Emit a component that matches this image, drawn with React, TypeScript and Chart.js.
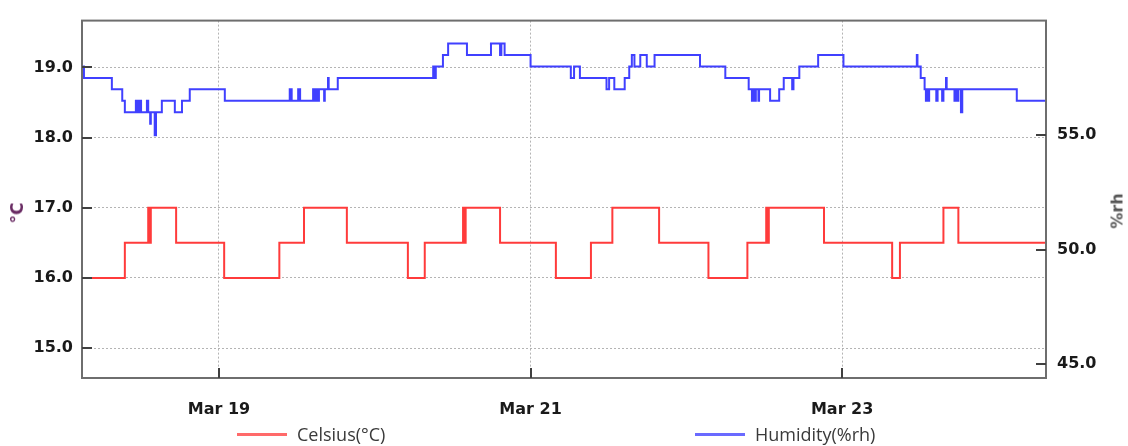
import React, { useEffect, useRef } from "react";
import { Chart, registerables } from "chart.js";

Chart.register(...registerables);

// Hours since Mar 18 00:00
const xMinHour = 2.9;
const xMaxHour = 151.4;
const xTickHours = [24, 72, 120];
const xTickLabels = ["Mar 19", "Mar 21", "Mar 23"];

const leftTicks = [15, 16, 17, 18, 19];
const rightTicks = [45, 50, 55];

const tempHours = [2.9, 9.5, 13.1, 13.3, 13.5, 17.4, 24.8, 33.3, 37.1, 43.7, 53.1, 55.7, 61.6, 61.8, 62.0, 67.3, 75.9, 81.3, 84.6, 91.8, 99.4, 105.4, 108.3, 108.5, 108.7, 117.2, 127.7, 128.9, 135.6, 137.9, 151.4];
const tempValues = [16.0, 16.5, 17.0, 16.5, 17.0, 16.5, 16.0, 16.5, 17.0, 16.5, 16.0, 16.5, 17.0, 16.5, 17.0, 16.5, 16.0, 16.5, 17.0, 16.5, 16.0, 16.5, 17.0, 16.5, 17.0, 16.5, 16.0, 16.5, 17.0, 16.5, 16.5];

const humHours = [2.9, 3.2, 7.5, 9.1, 9.5, 11.2, 11.4, 11.5, 11.7, 11.8, 12.0, 12.9, 13.1, 13.4, 13.5, 14.1, 14.3, 15.2, 17.2, 18.3, 19.5, 24.9, 34.9, 35.2, 36.2, 36.5, 38.5, 38.6, 38.8, 38.9, 39.1, 39.3, 39.4, 40.2, 40.3, 40.8, 40.9, 42.3, 57.0, 57.3, 57.4, 58.5, 59.3, 62.2, 65.9, 67.3, 67.5, 68.0, 72.0, 78.2, 78.7, 79.6, 83.7, 84.1, 84.9, 86.5, 87.2, 87.6, 88.0, 88.9, 89.9, 91.1, 98.1, 102.0, 105.6, 106.1, 106.3, 106.6, 106.7, 107.1, 107.2, 108.9, 110.3, 111.0, 112.3, 112.5, 113.4, 116.3, 120.2, 131.5, 131.6, 132.1, 132.7, 132.9, 133.1, 133.3, 133.4, 134.5, 134.7, 135.4, 135.6, 136.0, 136.1, 137.3, 137.5, 137.7, 137.9, 138.3, 138.5, 146.9, 151.4];
const humValues = [58.0, 57.5, 57.0, 56.5, 56.0, 56.5, 56.0, 56.5, 56.0, 56.5, 56.0, 56.5, 56.0, 55.5, 56.0, 55.0, 56.0, 56.5, 56.0, 56.5, 57.0, 56.5, 57.0, 56.5, 57.0, 56.5, 57.0, 56.5, 57.0, 56.5, 57.0, 56.5, 57.0, 56.5, 57.0, 57.5, 57.0, 57.5, 58.0, 57.5, 58.0, 58.5, 59.0, 58.5, 59.0, 58.5, 59.0, 58.5, 58.0, 57.5, 58.0, 57.5, 57.0, 57.5, 57.0, 57.5, 58.0, 58.5, 58.0, 58.5, 58.0, 58.5, 58.0, 57.5, 57.0, 56.5, 57.0, 56.5, 57.0, 56.5, 57.0, 56.5, 57.0, 57.5, 57.0, 57.5, 58.0, 58.5, 58.0, 58.5, 58.0, 57.5, 57.0, 56.5, 57.0, 56.5, 57.0, 56.5, 57.0, 56.5, 57.0, 57.5, 57.0, 56.5, 57.0, 56.5, 57.0, 56.0, 57.0, 56.5, 56.5];

const seriesNames = ["Celsius(°C)", "Humidity(%rh)"];
const seriesColors = ["#ff3b3b", "#4040ff"];

const tickFont = { family: "'DejaVu Sans', sans-serif", size: 16, weight: "bold" as const };

const framePlugin = {
  id: "frameTicks",
  afterDraw(chart: any) {
    const { ctx, chartArea: a, scales } = chart;
    ctx.save();
    ctx.strokeStyle = "#6e6e6e";
    ctx.lineWidth = 2;
    ctx.strokeRect(a.left, a.top, a.right - a.left, a.bottom - a.top);
    ctx.strokeStyle = "#404040";
    ctx.lineWidth = 2;
    ctx.beginPath();
    scales.y.ticks.forEach((t: any) => {
      const py = Math.round(scales.y.getPixelForValue(t.value));
      ctx.moveTo(a.left, py);
      ctx.lineTo(a.left + 10, py);
    });
    scales.y1.ticks.forEach((t: any) => {
      const py = Math.round(scales.y1.getPixelForValue(t.value));
      ctx.moveTo(a.right - 10, py);
      ctx.lineTo(a.right, py);
    });
    scales.x.ticks.forEach((t: any) => {
      const px = Math.round(scales.x.getPixelForValue(t.value));
      ctx.moveTo(px, a.bottom);
      ctx.lineTo(px, a.bottom - 10);
    });
    ctx.stroke();
    ctx.restore();
  },
};

export default function App() {
  const canvasRef = useRef<HTMLCanvasElement | null>(null);

  useEffect(() => {
    if (!canvasRef.current) return;
    const tempData = tempHours.map((h, i) => ({ x: h, y: tempValues[i] }));
    const humData = humHours.map((h, i) => ({ x: h, y: humValues[i] }));
    const chart = new Chart(canvasRef.current, {
      type: "line",
      data: {
        datasets: [
          {
            label: seriesNames[0],
            data: tempData,
            yAxisID: "y",
            borderColor: seriesColors[0],
            borderWidth: 2,
            pointRadius: 0,
            stepped: true,
            fill: false,
          },
          {
            label: seriesNames[1],
            data: humData,
            yAxisID: "y1",
            borderColor: seriesColors[1],
            borderWidth: 2,
            pointRadius: 0,
            stepped: true,
            fill: false,
          },
        ],
      },
      options: {
        responsive: false,
        animation: false,
        layout: { padding: { top: 16, left: 0, right: 0, bottom: 0 } },
        plugins: { legend: { display: false }, tooltip: { enabled: false } },
        scales: {
          x: {
            type: "linear",
            min: xMinHour,
            max: xMaxHour,
            afterBuildTicks: (s: any) => {
              s.ticks = xTickHours.map((v) => ({ value: v }));
            },
            afterFit: (s: any) => {
              s.height = 68;
            },
            ticks: {
              font: tickFont,
              color: "#1a1a1a",
              padding: 22,
              maxRotation: 0,
              autoSkip: false,
              callback: (v: any) => {
                const i = xTickHours.indexOf(Number(v));
                return i >= 0 ? xTickLabels[i] : "";
              },
            },
            grid: { color: "#b4b4b4", lineWidth: 1, drawTicks: false },
            border: { display: false, dash: [2, 2] },
          },
          y: {
            type: "linear",
            position: "left",
            min: 14.573,
            max: 19.667,
            afterBuildTicks: (s: any) => {
              s.ticks = leftTicks.map((v) => ({ value: v }));
            },
            afterFit: (s: any) => {
              s.width = 82;
            },
            ticks: {
              font: tickFont,
              color: "#1a1a1a",
              padding: 9,
              callback: (v: any) => Number(v).toFixed(1),
            },
            grid: { color: "#b4b4b4", lineWidth: 1, drawTicks: false },
            border: { display: false, dash: [2, 2] },
          },
          y1: {
            type: "linear",
            position: "right",
            min: 44.4,
            max: 60.0,
            afterBuildTicks: (s: any) => {
              s.ticks = rightTicks.map((v) => ({ value: v }));
            },
            afterFit: (s: any) => {
              s.width = 82;
            },
            ticks: {
              font: tickFont,
              color: "#1a1a1a",
              padding: 11,
              callback: (v: any) => Number(v).toFixed(1),
            },
            grid: { drawOnChartArea: false, drawTicks: false },
            border: { display: false },
          },
        },
      },
      plugins: [framePlugin],
    });
    return () => chart.destroy();
  }, []);

  const legendText: React.CSSProperties = {
    position: "absolute",
    top: 422,
    fontFamily: "'Open Sans', sans-serif",
    fontSize: 18,
    color: "#3a3a3a",
    lineHeight: "24px",
    whiteSpace: "nowrap",
  };

  return (
    <div style={{ position: "absolute", left: 0, top: 0, width: 1128, height: 446, background: "#ffffff", overflow: "hidden" }}>
      <canvas ref={canvasRef} width={1128} height={446} style={{ position: "absolute", left: 0, top: 0 }} />
      <div
        style={{
          position: "absolute",
          left: 17,
          top: 213,
          transform: "translate(-50%, -50%) rotate(-90deg)",
          fontFamily: "'DejaVu Sans', sans-serif",
          fontWeight: "bold",
          fontSize: 17,
          color: "#6a2c64",
          whiteSpace: "nowrap",
        }}
      >
        °C
      </div>
      <div
        style={{
          position: "absolute",
          left: 1117,
          top: 211,
          transform: "translate(-50%, -50%) rotate(-90deg)",
          fontFamily: "'DejaVu Sans', sans-serif",
          fontWeight: "bold",
          fontSize: 16,
          color: "#555555",
          whiteSpace: "nowrap",
        }}
      >
        %rh
      </div>
      <div style={{ position: "absolute", left: 237, top: 433, width: 50, height: 3, background: "#ff6a6a" }} />
      <div style={{ ...legendText, left: 297 }}>{seriesNames[0]}</div>
      <div style={{ position: "absolute", left: 695, top: 433, width: 50, height: 3, background: "#6a6aff" }} />
      <div style={{ ...legendText, left: 755 }}>{seriesNames[1]}</div>
    </div>
  );
}
